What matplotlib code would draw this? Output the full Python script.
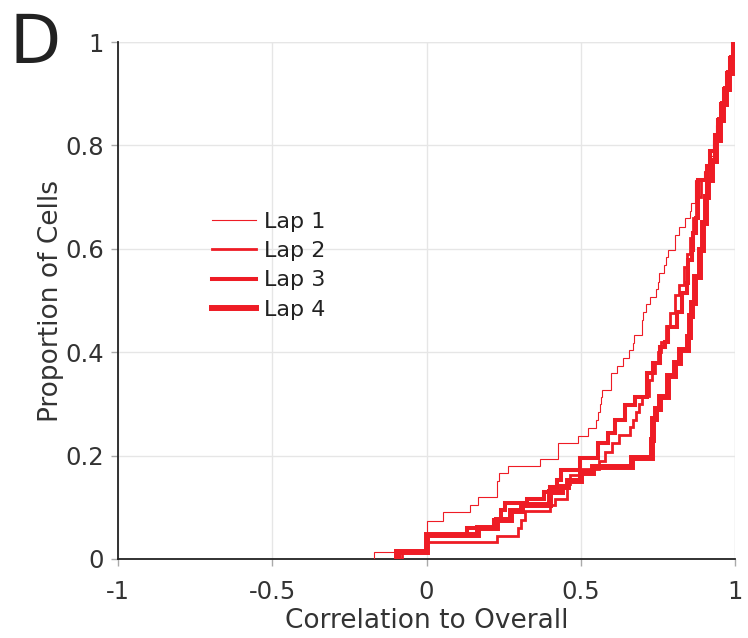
import matplotlib
matplotlib.use("Agg")
import matplotlib.pyplot as plt

# Step points (x where the ECDF jumps, level after the jump)
lap1_x = [-0.17, 0.0, 0.053, 0.14, 0.168, 0.23, 0.235, 0.263, 0.367, 0.427, 0.492, 0.525,
          0.55, 0.555, 0.562, 0.565, 0.568, 0.598, 0.617, 0.636, 0.658, 0.668, 0.672,
          0.697, 0.70, 0.703, 0.712, 0.725, 0.745, 0.75, 0.755, 0.77, 0.777, 0.782,
          0.805, 0.82, 0.838, 0.855, 0.856, 0.871, 0.90, 0.915, 0.93, 0.94, 0.95,
          0.96, 0.97, 0.98, 0.99]
lap1_y = [0.014, 0.074, 0.090, 0.104, 0.119, 0.150, 0.166, 0.179, 0.193, 0.224, 0.238, 0.253,
          0.269, 0.285, 0.300, 0.314, 0.327, 0.359, 0.373, 0.388, 0.404, 0.418, 0.433,
          0.450, 0.462, 0.477, 0.493, 0.507, 0.522, 0.536, 0.553, 0.569, 0.585, 0.598,
          0.627, 0.643, 0.659, 0.673, 0.688, 0.733, 0.75, 0.78, 0.81, 0.84, 0.87,
          0.90, 0.93, 0.96, 1.0]

lap2_x = [-0.08, 0.0, 0.23, 0.298, 0.305, 0.318, 0.40, 0.417, 0.454, 0.465, 0.50, 0.56,
          0.579, 0.60, 0.625, 0.66, 0.67, 0.678, 0.69, 0.70, 0.72, 0.73, 0.74, 0.75,
          0.76, 0.775, 0.79, 0.805, 0.82, 0.835, 0.845, 0.855, 0.865, 0.875, 0.89,
          0.905, 0.92, 0.935, 0.945, 0.955, 0.965, 0.975, 0.985, 0.995]
lap2_y = [0.014, 0.032, 0.044, 0.059, 0.075, 0.092, 0.104, 0.117, 0.146, 0.162, 0.175, 0.19,
          0.207, 0.224, 0.24, 0.256, 0.269, 0.285, 0.30, 0.315, 0.346, 0.36, 0.38, 0.40,
          0.42, 0.45, 0.475, 0.51, 0.53, 0.565, 0.59, 0.62, 0.66, 0.70, 0.733,
          0.76, 0.79, 0.82, 0.85, 0.88, 0.91, 0.94, 0.97, 1.0]

lap3_x = [-0.09, 0.0, 0.13, 0.22, 0.243, 0.255, 0.325, 0.38, 0.40, 0.422, 0.435, 0.498,
          0.556, 0.588, 0.611, 0.643, 0.676, 0.714, 0.735, 0.757, 0.773, 0.783, 0.811,
          0.827, 0.843, 0.848, 0.86, 0.865, 0.872, 0.88, 0.908, 0.92, 0.935, 0.945,
          0.955, 0.965, 0.975, 0.985, 0.995]
lap3_y = [0.014, 0.046, 0.059, 0.075, 0.095, 0.108, 0.117, 0.13, 0.14, 0.153, 0.172, 0.195,
          0.224, 0.243, 0.269, 0.298, 0.314, 0.359, 0.38, 0.41, 0.42, 0.449, 0.478,
          0.514, 0.534, 0.578, 0.598, 0.63, 0.66, 0.733, 0.76, 0.79, 0.82, 0.85,
          0.88, 0.91, 0.94, 0.97, 1.0]

lap4_x = [-0.097, 0.0, 0.168, 0.228, 0.275, 0.31, 0.40, 0.44, 0.46, 0.50, 0.54, 0.665,
          0.73, 0.735, 0.745, 0.757, 0.783, 0.806, 0.822, 0.848, 0.855, 0.86, 0.87,
          0.887, 0.895, 0.905, 0.912, 0.925, 0.94, 0.95, 0.96, 0.97, 0.98, 0.99, 1.0]
lap4_y = [0.014, 0.046, 0.059, 0.075, 0.092, 0.104, 0.13, 0.14, 0.15, 0.166, 0.178, 0.195,
          0.23, 0.27, 0.29, 0.314, 0.353, 0.379, 0.404, 0.43, 0.47, 0.495, 0.546,
          0.598, 0.65, 0.70, 0.733, 0.77, 0.81, 0.85, 0.88, 0.91, 0.94, 0.97, 1.0]

labels = ["Lap 1", "Lap 2", "Lap 3", "Lap 4"]
xticks = [-1, -0.5, 0, 0.5, 1]
xticklabels = ["-1", "-0.5", "0", "0.5", "1"]
yticks = [0, 0.2, 0.4, 0.6, 0.8, 1]
yticklabels = ["0", "0.2", "0.4", "0.6", "0.8", "1"]

red = "#EE1C25"
widths = [0.8, 2.0, 2.9, 4.3]

plt.rcParams['font.family'] = ['DejaVu Sans']
fig = plt.figure(figsize=(7.48, 6.38), dpi=100)
ax = fig.add_axes([118/748, 1-559/638, (735-118)/748, (559-42)/638])

series = [(lap1_x, lap1_y), (lap2_x, lap2_y), (lap3_x, lap3_y), (lap4_x, lap4_y)]
for (xs, ys), lab, lw in zip(series, labels, widths):
    px = [xs[0]] + list(xs)
    py = [0.0] + list(ys)
    ax.plot(px, py, drawstyle='steps-post', color=red, lw=lw, label=lab,
            solid_joinstyle='miter', zorder=3)

ax.set_xlim(-1, 1)
ax.set_ylim(0, 1)
ax.set_xticks(xticks)
ax.set_xticklabels(xticklabels)
ax.set_yticks(yticks)
ax.set_yticklabels(yticklabels)
ax.grid(True, color="#e6e6e6", lw=1.0, zorder=0)
ax.axvline(1, color="#e6e6e6", lw=1.0, zorder=0)
ax.axhline(1, color="#e6e6e6", lw=1.0, zorder=0)
for s in ["top", "right"]:
    ax.spines[s].set_visible(False)
for s in ["left", "bottom"]:
    ax.spines[s].set_color("#222222")
    ax.spines[s].set_linewidth(1.3)
ax.tick_params(axis='both', length=5, width=1, color="#aaaaaa", labelsize=17.5,
               labelcolor="#333333")
ax.tick_params(axis='x', pad=10)
ax.tick_params(axis='y', pad=5)
ax.set_xlabel("Correlation to Overall", fontsize=19, color="#333333", labelpad=3)
ax.set_ylabel("Proportion of Cells", fontsize=19, color="#333333", labelpad=1)

leg = ax.legend(loc='upper left', bbox_to_anchor=(0.138, 0.689), frameon=False,
                fontsize=16, handlelength=2.0, handletextpad=0.35, labelspacing=0.42,
                borderaxespad=0)
for t in leg.get_texts():
    t.set_color("#222222")

fig.text(10/748, 1-63/638, "D", fontsize=48, color="#222222", ha='left', va='baseline')

fig.savefig("out.png", dpi=100)
